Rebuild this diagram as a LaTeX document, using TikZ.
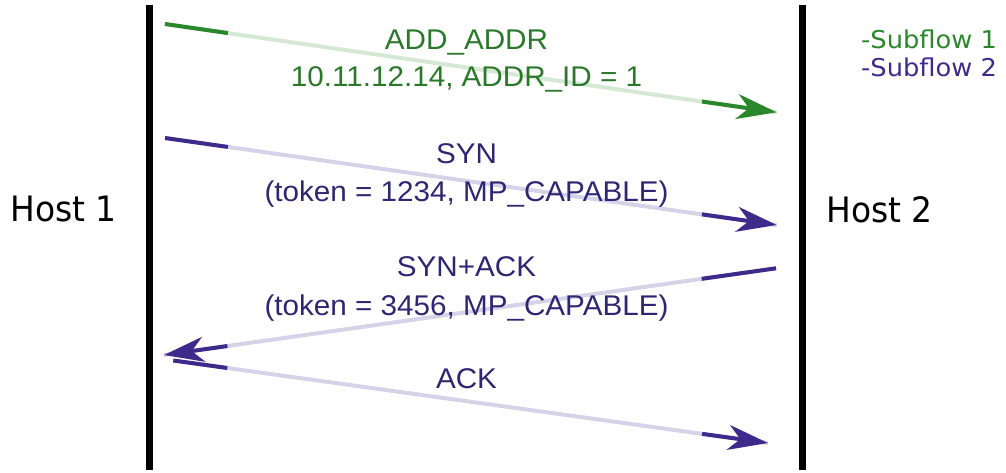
\documentclass[tikz,border=0pt]{standalone}
\usepackage{fontspec}
\setmainfont{Liberation Sans}
\newfontfamily\msgfont[FakeStretch=1.04]{Liberation Sans}
\newfontfamily\hostfont[FakeStretch=0.94]{DejaVu Sans}
\newfontfamily\legendfont[FakeStretch=1.05]{DejaVu Sans}
\usetikzlibrary{arrows.meta,calc}

\definecolor{sfgreen}{HTML}{2B872B}
\definecolor{sfgreentext}{HTML}{2A782A}
\definecolor{sfgreenlight}{HTML}{D4E8D4}
\definecolor{sfpurple}{HTML}{3E2A8A}
\definecolor{sfpurpletext}{HTML}{2E2672}
\definecolor{sfpurplelight}{HTML}{D6D2E8}

\tikzset{
  lifeline/.style={line width=6.5pt, black},
  msgfaint/.style={line width=4pt},
  msgbold/.style={line width=4pt},
  msgtip/.style={-{Stealth[length=40pt,width=25pt,inset=12pt]}},
  msglabel/.style={font=\msgfont\fontsize{28.5}{38.3}\selectfont, align=center, anchor=base, inner sep=0pt},
  hostlabel/.style={font=\hostfont\fontsize{35}{40}\selectfont, anchor=base, inner sep=0pt},
  legendlabel/.style={font=\legendfont\fontsize{24.5}{28}\selectfont, anchor=base west, inner sep=0pt},
}

\begin{document}
\begin{tikzpicture}[x=1pt,y=-1pt]
  \useasboundingbox (0,0) rectangle (1006,473);

  % host lifelines
  \coordinate (h1top) at (149.7,5);
  \coordinate (h1bot) at (149.7,470);
  \coordinate (h2top) at (802.7,5);
  \coordinate (h2bot) at (802.7,470);
  \draw[lifeline] (h1top) -- (h1bot);
  \draw[lifeline] (h2top) -- (h2bot);

  % message end points
  \coordinate (a1) at (165,24);    \coordinate (b1) at (776.7,112.3);
  \coordinate (a2) at (165,138);   \coordinate (b2) at (776.7,225);
  \coordinate (a3) at (776,268.3); \coordinate (b3) at (164,355);
  \coordinate (a4) at (173.3,360.5); \coordinate (b4) at (768,443);

  % ADD_ADDR (subflow 1)
  \draw[msgfaint, sfgreenlight] (a1) -- (b1);
  \draw[msgbold, sfgreen] (a1) -- ($(a1)!63.5pt!(b1)$);
  \draw[msgbold, sfgreen, msgtip] ($(b1)!75.5pt!(a1)$) -- (b1);

  % SYN
  \draw[msgfaint, sfpurplelight] (a2) -- (b2);
  \draw[msgbold, sfpurple] (a2) -- ($(a2)!63.5pt!(b2)$);
  \draw[msgbold, sfpurple, msgtip] ($(b2)!75.5pt!(a2)$) -- (b2);

  % SYN+ACK
  \draw[msgfaint, sfpurplelight] (a3) -- (b3);
  \draw[msgbold, sfpurple] (a3) -- ($(a3)!75pt!(b3)$);
  \draw[msgbold, sfpurple, msgtip] ($(b3)!64pt!(a3)$) -- (b3);

  % ACK
  \draw[msgfaint, sfpurplelight] (a4) -- (b4);
  \draw[msgbold, sfpurple] (a4) -- ($(a4)!54.5pt!(b4)$);
  \draw[msgbold, sfpurple, msgtip] ($(b4)!66.5pt!(a4)$) -- (b4);

  % message labels (anchored on the baseline of the last line)
  \node[msglabel, text=sfgreentext] (l1) at (466.5,86.5) {ADD\_ADDR\\[-1.8pt]10.11.12.14, ADDR\_ID = 1};
  \node[msglabel, text=sfpurpletext] (l2) at (466.5,201.7) {SYN\\(token = 1234, MP\_CAPABLE)};
  \node[msglabel, text=sfpurpletext] (l3) at (466.5,315) {SYN+ACK\\(token = 3456, MP\_CAPABLE)};
  \node[msglabel, text=sfpurpletext] (l4) at (466.5,388.3) {ACK};

  % host names
  \node[hostlabel] (host1) at (63.5,222) {Host 1};
  \node[hostlabel] (host2) at (879.5,222.5) {Host 2};

  % legend
  \node[legendlabel, text=sfgreen] (leg1) at (861,48.3) {-Subflow 1};
  \node[legendlabel, text=sfpurple] (leg2) at (861,76.7) {-Subflow 2};
\end{tikzpicture}
\end{document}
